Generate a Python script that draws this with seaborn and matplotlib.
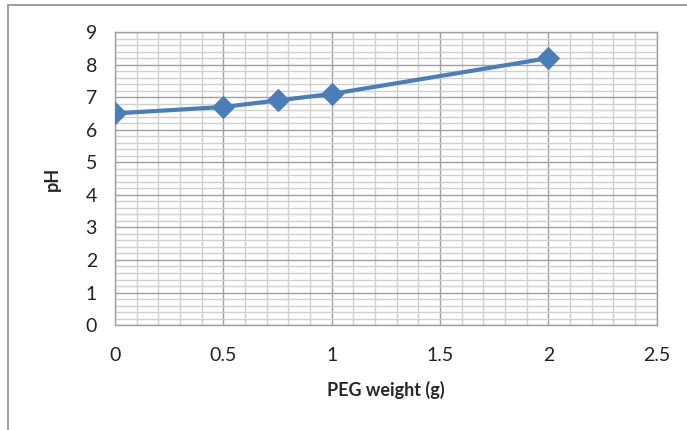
import matplotlib
matplotlib.use("Agg")
import matplotlib.pyplot as plt
import seaborn as sns
import pandas as pd
from matplotlib.ticker import MultipleLocator

# data
peg_weight = [0, 0.5, 0.75, 1, 2]
ph_values = [6.5, 6.7, 6.9, 7.1, 8.2]
x_ticks = [0, 0.5, 1, 1.5, 2, 2.5]
y_ticks = list(range(0, 10))

df = pd.DataFrame({"peg": peg_weight, "ph": ph_values})

sns.set_style("white")
plt.rcParams['font.family'] = ['Lato', 'DejaVu Sans']

fig = plt.figure(figsize=(6.87, 4.30), dpi=100)
ax = fig.add_axes([0.1674, 0.244, 0.7886, 0.6814])

# outer frame like the spreadsheet chart box
frame = plt.Rectangle((0.012, -0.01), 1.2, 0.998, transform=fig.transFigure,
                      fill=False, edgecolor="#8c8c8c", linewidth=1.2)
fig.patches.append(frame)

sns.lineplot(data=df, x="peg", y="ph", ax=ax, color="#4a7ebb", linewidth=3,
             marker="D", markersize=11, markeredgecolor="#4a7ebb", zorder=5)

ax.set_xlim(0, 2.5)
ax.set_ylim(0, 9)
ax.set_xticks(x_ticks)
ax.set_xticklabels(["0", "0.5", "1", "1.5", "2", "2.5"])
ax.set_yticks(y_ticks)
ax.xaxis.set_minor_locator(MultipleLocator(0.1))
ax.yaxis.set_minor_locator(MultipleLocator(0.2))

ax.grid(which="major", color="#a0a0a0", linewidth=1.0)
ax.grid(which="minor", color="#d0d0d0", linewidth=1.0)
ax.set_axisbelow(True)

for s in ax.spines.values():
    s.set_color("#a0a0a0")
    s.set_linewidth(1.0)

ax.tick_params(axis="both", which="major", direction="out", length=7,
               color="#a0a0a0", labelsize=14, labelcolor="#222222")
ax.tick_params(axis="x", which="major", pad=9)
ax.tick_params(axis="y", which="major", pad=6)
ax.tick_params(which="minor", length=0)

ax.set_xlabel("PEG weight (g)", fontsize=13, fontweight="bold", labelpad=12)
ax.set_ylabel("pH", fontsize=13, fontweight="bold", labelpad=18)

fig.savefig("out.png", dpi=100)
